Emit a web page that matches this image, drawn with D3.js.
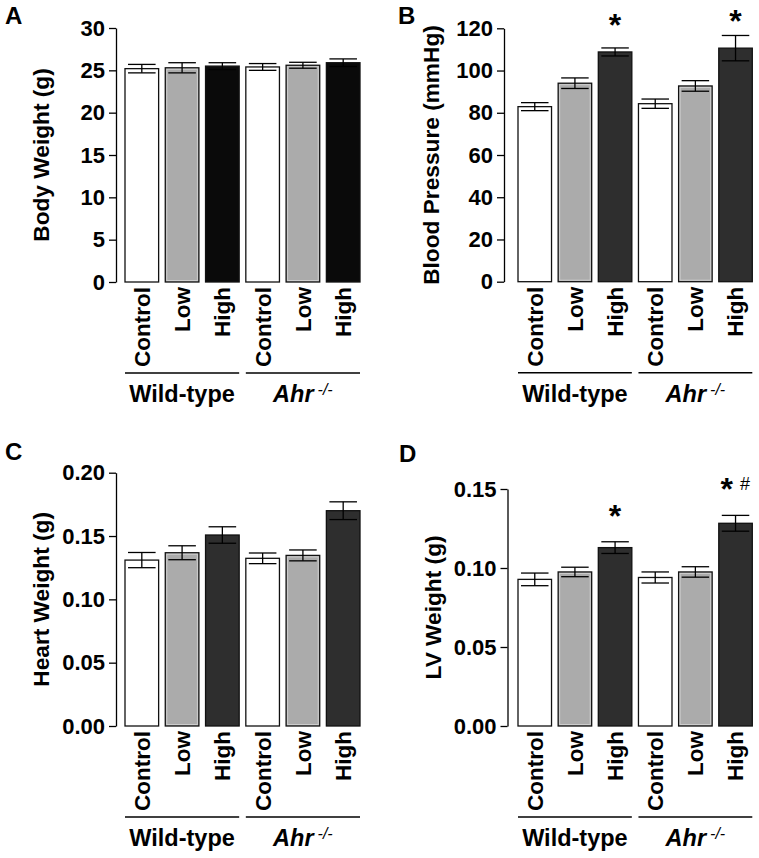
<!DOCTYPE html>
<html lang="en">
<head>
  <meta charset="UTF-8">
  <title>Body, BP, heart and LV weight</title>
  <style>
    body { margin: 0; background: #fff; }
    svg text { font-family: "Liberation Sans", Arial, Helvetica, sans-serif; fill: #000; }
  </style>
  <script src="https://cdn.jsdelivr.net/npm/d3@7"></script>
</head>
<body>
<svg id="fig" width="759" height="858"></svg>
<script>
// groups along the x axis
var categories = ["Control", "Low", "High", "Control", "Low", "High"];
var groupOf = [0, 0, 0, 1, 1, 1];
var groupNames = ["Wild-type", "Ahr"];
var groupSup = ["", "-/-"];

// means and SEM
var bodyWeight = [25.2, 25.3, 25.5, 25.4, 25.6, 25.9];
var bodyWeightErr = [0.5, 0.6, 0.4, 0.4, 0.35, 0.45];
var bloodPressure = [82.9, 94.0, 108.8, 84.3, 92.7, 110.6];
var bloodPressureErr = [1.9, 2.5, 1.9, 2.2, 2.5, 6.0];
var heartWeight = [0.131, 0.1368, 0.1508, 0.1324, 0.1347, 0.170];
var heartWeightErr = [0.006, 0.0055, 0.0065, 0.0042, 0.0043, 0.007];
var lvWeight = [0.0928, 0.0975, 0.1129, 0.094, 0.0975, 0.1283];
var lvWeightErr = [0.004, 0.003, 0.0037, 0.0035, 0.0033, 0.005];

// significance marks: category index, height in data units, labels
var bpMarks = [{i: 2, v: 124, star: "*", hash: ""}, {i: 5, v: 125.8, star: "*", hash: ""}];
var lvMarks = [{i: 2, v: 0.1363, star: "*", hash: ""}, {i: 5, v: 0.1532, star: "*", hash: "#"}];

var panels = [
  {letter: "A", lx: 5, ly: 24, axisX: 116, top: 28, bottom: 282, bars: [125, 360],
   max: 30, step: 5, fmt: d3.format("d"), title: "Body Weight (g)", titleX: 41,
   values: bodyWeight, errs: bodyWeightErr, marks: [], high: "#0a0a0a"},
  {letter: "B", lx: 398, ly: 24, axisX: 504, top: 28.3, bottom: 281.7, bars: [518, 752.3],
   max: 120, step: 20, fmt: d3.format("d"), title: "Blood Pressure (mmHg)", titleX: 431,
   values: bloodPressure, errs: bloodPressureErr, marks: bpMarks, high: "#2e2e2e"},
  {letter: "C", lx: 5, ly: 460, axisX: 116, top: 472.7, bottom: 726, bars: [125, 360],
   max: 0.20, step: 0.05, fmt: d3.format(".2f"), title: "Heart Weight (g)", titleX: 41,
   values: heartWeight, errs: heartWeightErr, marks: [], high: "#2e2e2e"},
  {letter: "D", lx: 399, ly: 462, axisX: 507.5, top: 489, bottom: 726, bars: [518, 752.3],
   max: 0.15, step: 0.05, fmt: d3.format(".2f"), title: "LV Weight (g)", titleX: 433,
   values: lvWeight, errs: lvWeightErr, marks: lvMarks, high: "#2e2e2e"}
];

// height of a glyph's ink centre above the baseline, so marks can be centred on a point
var ctx = document.createElement("canvas").getContext("2d");
function inkMid(txt, font) {
  ctx.font = font;
  var m = ctx.measureText(txt);
  return (m.actualBoundingBoxAscent - m.actualBoundingBoxDescent) / 2;
}
var starFont = "bold 32px 'Liberation Sans'";
var hashFont = "18px 'Liberation Sans'";

var svg = d3.select("#fig");

panels.forEach(function(p) {
  var g = svg.append("g");
  var idx = d3.range(categories.length);
  var fills = {Control: "#ffffff", Low: "#ababab", High: p.high};

  var x = d3.scaleBand().domain(idx).range(p.bars).paddingInner(0.165).paddingOuter(0);
  var y = d3.scaleLinear().domain([0, p.max]).range([p.bottom, p.top]);

  // panel letter
  g.append("text").attr("x", p.lx).attr("y", p.ly)
    .attr("font-size", 24).attr("font-weight", "bold").text(p.letter);

  // y axis
  var ax = g.append("g").attr("transform", "translate(" + p.axisX + ",0)")
    .call(d3.axisLeft(y)
      .tickValues(d3.range(0, p.max + p.step / 2, p.step))
      .tickFormat(p.fmt).tickSize(7).tickSizeOuter(0).tickPadding(4));
  ax.select(".domain").attr("stroke", "#000").attr("stroke-width", 1.3);
  ax.selectAll(".tick line").attr("stroke", "#000").attr("stroke-width", 1.3);
  ax.selectAll(".tick text").attr("font-size", 22).attr("font-weight", "bold")
    .attr("font-family", "Liberation Sans, Arial, sans-serif").attr("fill", "#000");

  g.append("text")
    .attr("transform", "translate(" + p.titleX + "," + ((p.top + p.bottom) / 2) + ") rotate(-90)")
    .attr("text-anchor", "middle").attr("dy", "0.35em")
    .attr("font-size", 22.7).attr("font-weight", "bold").text(p.title);

  // bars
  g.selectAll("rect.bar").data(idx).enter().append("rect")
    .attr("class", "bar")
    .attr("x", function(i) { return x(i); })
    .attr("width", x.bandwidth())
    .attr("y", function(i) { return y(p.values[i]); })
    .attr("height", function(i) { return y(0) - y(p.values[i]); })
    .attr("fill", function(i) { return fills[categories[i]]; })
    .attr("stroke", "#111").attr("stroke-width", 1.3);

  // light inner edge on the grey bars
  g.selectAll("rect.edge").data(idx.filter(function(i) { return categories[i] === "Low"; }))
    .enter().append("rect")
    .attr("class", "edge")
    .attr("x", function(i) { return x(i) + 1.5; })
    .attr("width", x.bandwidth() - 3)
    .attr("y", function(i) { return y(p.values[i]) + 1.5; })
    .attr("height", function(i) { return y(0) - y(p.values[i]) - 3; })
    .attr("fill", "none").attr("stroke", "#cdcdcd").attr("stroke-width", 1);

  // error bars
  var capW = x.bandwidth() * 0.82;
  var eb = g.selectAll("g.err").data(idx).enter().append("g").attr("class", "err")
    .attr("stroke", "#000").attr("stroke-width", 1.3);
  eb.append("line")
    .attr("x1", function(i) { return x(i) + x.bandwidth() / 2; })
    .attr("x2", function(i) { return x(i) + x.bandwidth() / 2; })
    .attr("y1", function(i) { return y(p.values[i] - p.errs[i]); })
    .attr("y2", function(i) { return y(p.values[i] + p.errs[i]); });
  [-1, 1].forEach(function(s) {
    eb.append("line")
      .attr("x1", function(i) { return x(i) + (x.bandwidth() - capW) / 2; })
      .attr("x2", function(i) { return x(i) + (x.bandwidth() + capW) / 2; })
      .attr("y1", function(i) { return y(p.values[i] + s * p.errs[i]); })
      .attr("y2", function(i) { return y(p.values[i] + s * p.errs[i]); });
  });

  // category labels
  g.selectAll("text.cat").data(idx).enter().append("text")
    .attr("class", "cat")
    .attr("transform", function(i) {
      return "translate(" + (x(i) + x.bandwidth() / 2) + "," + (p.bottom + 5) + ") rotate(-90)";
    })
    .attr("text-anchor", "end").attr("dy", "0.35em")
    .attr("font-size", 22.5).attr("font-weight", "bold")
    .text(function(i) { return categories[i]; });

  // group lines and names
  groupNames.forEach(function(name, gi) {
    var members = idx.filter(function(i) { return groupOf[i] === gi; });
    var x0 = x(members[0]), x1 = x(members[members.length - 1]) + x.bandwidth();
    g.append("line").attr("x1", x0).attr("x2", x1)
      .attr("y1", p.bottom + 91).attr("y2", p.bottom + 91)
      .attr("stroke", "#000").attr("stroke-width", 1.5);
    var t = g.append("text").attr("x", (x0 + x1) / 2).attr("y", p.bottom + 120)
      .attr("text-anchor", "middle").attr("font-size", 23.5).attr("font-weight", "bold");
    t.append("tspan").attr("font-style", groupSup[gi] ? "italic" : "normal").text(name);
    if (groupSup[gi]) {
      t.append("tspan").attr("font-size", 16).attr("font-weight", "normal")
        .attr("font-style", "italic").attr("dx", 4).attr("dy", -7).text(groupSup[gi]);
    }
  });

  // significance marks, ink-centred on the given height
  p.marks.forEach(function(m) {
    var cx = x(m.i) + x.bandwidth() / 2;
    var starMid = inkMid("*", starFont);
    var t = g.append("text")
      .attr("x", m.hash ? cx - 15 : cx).attr("y", y(m.v) + starMid)
      .attr("text-anchor", m.hash ? "start" : "middle");
    t.append("tspan").attr("font-size", 32).attr("font-weight", "bold").text(m.star);
    if (m.hash) {
      t.append("tspan").attr("font-size", 18).attr("dx", 7)
        .attr("dy", inkMid("#", hashFont) - starMid).text(m.hash);
    }
  });
});
</script>
</body>
</html>
